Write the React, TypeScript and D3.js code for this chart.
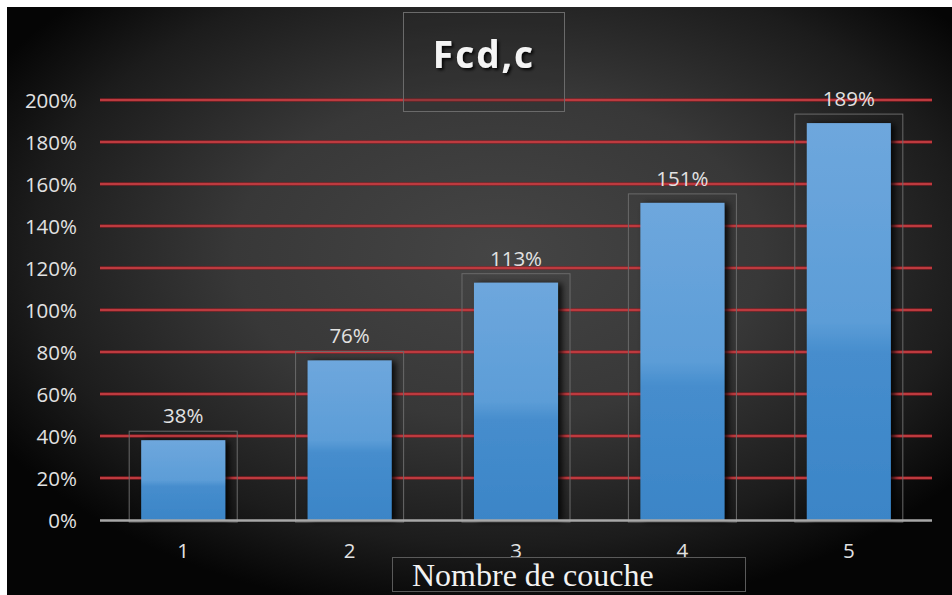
import React from "react";
import * as d3 from "d3";

const categories = ["1", "2", "3", "4", "5"];
const values = [38, 76, 113, 151, 189];
const yTicks = [0, 20, 40, 60, 80, 100, 120, 140, 160, 180, 200];
const title = "Fcd,c";
const xTitle = "Nombre de couche";

const W = 952;
const H = 595;

export default function App() {
  const left = 100, right = 932, top = 100, bottom = 520;
  const x = d3.scaleBand<string>().domain(categories).range([left, right]).paddingInner(0.495).paddingOuter(0.2475);
  const xc = d3.scaleBand<string>().domain(categories).range([left, right]);
  const y = d3.scaleLinear().domain([0, 200]).range([bottom, top]);
  const font = "'Open Sans', 'DejaVu Sans', sans-serif";

  return (
    <svg width={W} height={H} style={{ position: "absolute", left: 0, top: 0 }}>
      <defs>
        <radialGradient id="bg" cx="52%" cy="42%" r="62%" fx="52%" fy="42%">
          <stop offset="0%" stopColor="#454545" />
          <stop offset="45%" stopColor="#383838" />
          <stop offset="80%" stopColor="#1c1c1c" />
          <stop offset="100%" stopColor="#050505" />
        </radialGradient>
        <linearGradient id="barG" x1="0" y1="0" x2="0" y2="1">
          <stop offset="0%" stopColor="#6ea7dd" />
          <stop offset="50%" stopColor="#5c9dd7" />
          <stop offset="58%" stopColor="#468dcd" />
          <stop offset="100%" stopColor="#3b85c7" />
        </linearGradient>
        <filter id="sh" x="-20%" y="-20%" width="150%" height="140%">
          <feDropShadow dx="4" dy="1" stdDeviation="3" floodColor="#000" floodOpacity="0.85" />
        </filter>
        <filter id="tsh" x="-20%" y="-20%" width="140%" height="150%">
          <feDropShadow dx="2" dy="2" stdDeviation="1.5" floodColor="#000" floodOpacity="0.9" />
        </filter>
      </defs>
      <rect x={0} y={0} width={W} height={H} fill="#fff" />
      <rect x={7} y={7} width={W - 7} height={H - 7} fill="url(#bg)" />

      {/* gridlines */}
      {yTicks.filter((t) => t > 0).map((t) => (
        <g key={t}>
          <line x1={left} x2={right} y1={y(t)} y2={y(t)} stroke="#a51d22" strokeWidth={3} />
          <line x1={left} x2={right} y1={y(t)} y2={y(t)} stroke="#d6595c" strokeWidth={1} />
        </g>
      ))}

      {/* y tick labels */}
      {yTicks.map((t) => (
        <text key={t} x={77} y={y(t) + 7.5} textAnchor="end" fontFamily={font} fontSize={20.5} fill="#e2e2e2">
          {t + "%"}
        </text>
      ))}

      {/* bar outline boxes */}
      {categories.map((c, i) => {
        const bx = x(c)! - 12;
        const bw = x.bandwidth() + 24;
        const byTop = y(values[i]) - 9;
        return (
          <rect key={"b" + c} x={bx} y={byTop} width={bw} height={bottom + 2 - byTop} fill="none" stroke="#6a6a6a" strokeWidth={1} />
        );
      })}

      {/* bars */}
      {categories.map((c, i) => (
        <rect key={c} x={x(c)} y={y(values[i])} width={x.bandwidth()} height={bottom - y(values[i])} fill="url(#barG)" filter="url(#sh)" />
      ))}

      {/* x axis */}
      <line x1={left} x2={right} y1={bottom + 0.5} y2={bottom + 0.5} stroke="#a8a8a8" strokeWidth={2.5} />

      {/* data labels */}
      {categories.map((c, i) => (
        <text key={"l" + c} x={xc(c)! + xc.bandwidth() / 2} y={y(values[i]) - 17} textAnchor="middle" fontFamily={font} fontSize={20.5} fill="#e2e2e2">
          {values[i] + "%"}
        </text>
      ))}

      {/* x tick labels */}
      {categories.map((c) => (
        <text key={"t" + c} x={xc(c)! + xc.bandwidth() / 2} y={558} textAnchor="middle" fontFamily={font} fontSize={20.5} fill="#e2e2e2">
          {c}
        </text>
      ))}

      {/* title */}
      <rect x={403.5} y={12.5} width={161} height={99} fill="rgba(40,40,40,0.25)" stroke="#6a6a6a" strokeWidth={1} />
      <text x={484} y={68} textAnchor="middle" fontFamily={font} fontWeight="bold" fontSize={37} letterSpacing={2} fill="#f4f4f4" filter="url(#tsh)">
        {title}
      </text>

      {/* x axis title */}
      <rect x={392.5} y={557.5} width={353} height={34} fill="none" stroke="#5a5a5a" strokeWidth={1} />
      <text x={412} y={586} fontFamily="'Liberation Serif', 'Times New Roman', serif" fontSize={32} fill="#f2f2f2">
        {xTitle}
      </text>
    </svg>
  );
}
